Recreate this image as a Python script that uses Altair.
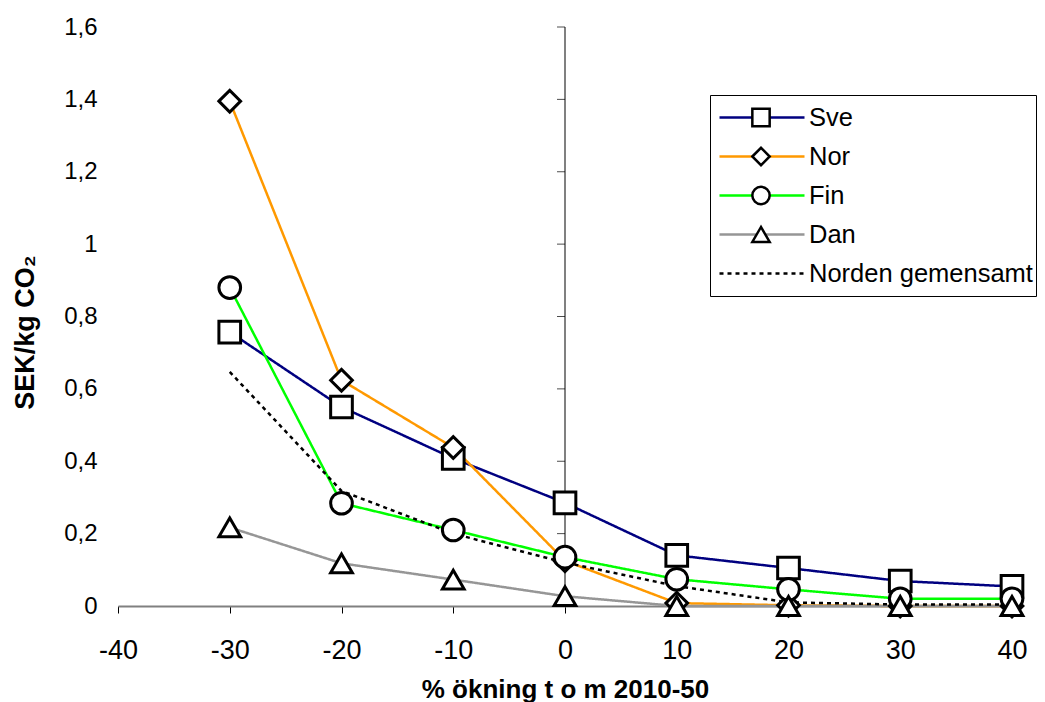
import altair as alt
import pandas as pd

# ---- data ----
x_vals = [-30, -20, -10, 0, 10, 20, 30, 40]
sve = [0.757, 0.55, 0.408, 0.285, 0.140, 0.105, 0.069, 0.054]
nor = [1.395, 0.624, 0.438, 0.125, 0.008, 0.002, 0.0, 0.0]
fin = [0.880, 0.284, 0.210, 0.135, 0.074, 0.046, 0.020, 0.020]
dan = [0.217, 0.118, 0.073, 0.027, 0.0, 0.0, 0.0, 0.0]
norden = [0.647, 0.318, 0.200, 0.120, 0.055, 0.010, 0.004, 0.004]

series_names = ["Sve", "Nor", "Fin", "Dan", "Norden gemensamt"]
line_colors = ["#000080", "#FF9900", "#00FF00", "#969696", "#000000"]
line_dashes = [[1, 0], [1, 0], [1, 0], [1, 0], [4, 4]]
marker_series = ["Sve", "Nor", "Fin", "Dan"]
marker_shapes = ["square", "diamond", "circle", "triangle-up"]

x_ticks = [-40, -30, -20, -10, 0, 10, 20, 30, 40]
y_ticks = [0, 0.2, 0.4, 0.6, 0.8, 1.0, 1.2, 1.4, 1.6]

x_title = "% ökning t o m 2010-50"
y_title = "SEK/kg CO₂"

# ---- tables ----
all_values = {"Sve": sve, "Nor": nor, "Fin": fin, "Dan": dan, "Norden gemensamt": norden}
rows = []
for i, name in enumerate(series_names):
    for x, v in zip(x_vals, all_values[name]):
        rows.append({"x": x, "v": v, "serie": name, "order": i})
df = pd.DataFrame(rows)
df_markers = df[df["serie"].isin(marker_series)]
df_ticks = pd.DataFrame({"zero": [0] * len(y_ticks), "t": y_ticks})

FONT = "Liberation Sans"

x_scale = alt.Scale(domain=[-40, 40], nice=False, zero=False)
y_scale = alt.Scale(domain=[0, 1.6], nice=False)

x_axis = alt.Axis(
    values=x_ticks, labelExpr="'' + datum.value", grid=False, labelFlush=False,
    domainColor="#808080", domainWidth=2, tickColor="#000000", tickSize=7, tickWidth=1,
    labelFont=FONT, labelFontSize=27, labelPadding=24, labelColor="#000000",
    title=x_title, titleFont=FONT, titleFontSize=26, titleFontWeight="bold",
    titleColor="#000000", titleY=91, titleBaseline="alphabetic",
)
y_axis = alt.Axis(
    values=y_ticks, labelExpr="replace('' + datum.value, '.', ',')", grid=False,
    labelFlush=False, domain=False, ticks=False, tickSize=0,
    labelFont=FONT, labelFontSize=24, labelPadding=21, labelColor="#000000",
    title=y_title, titleFont=FONT, titleFontSize=27, titleFontWeight="bold",
    titleColor="#000000", titleAngle=270, titleX=-85, titleY=305,
    titleAlign="center", titleBaseline="alphabetic",
)

line_legend = alt.Legend(
    title=None, orient="none", legendX=592, legendY=68,
    symbolType="stroke", symbolSize=7225, symbolStrokeWidth=2.5,
    clipHeight=39, rowPadding=0, padding=3, symbolOffset=5, labelOffset=3,
    labelFont=FONT, labelFontSize=25.5, labelColor="#000000", labelLimit=0,
    strokeColor="#000000", fillColor="#FFFFFF",
)

marker_legend = alt.Legend(
    title=None, orient="none", legendX=592, legendY=68,
    symbolSize=300, symbolStrokeWidth=2.5, symbolOpacity=1,
    clipHeight=39, rowPadding=0, padding=3,
    symbolOffset=38, labelExpr="''", labelFontSize=1,
)

# y-axis line drawn through x = 0 (Excel style)
zero_rule = alt.Chart(df_ticks).mark_rule(color="#808080", strokeWidth=2).encode(
    x=alt.X("zero:Q", scale=x_scale, axis=x_axis),
)
zero_ticks = alt.Chart(df_ticks).mark_tick(
    orient="horizontal", size=8, thickness=1, color="#000000", xOffset=-4
).encode(
    x=alt.X("zero:Q", scale=x_scale),
    y=alt.Y("t:Q", scale=y_scale, axis=y_axis),
)

lines = alt.Chart(df).mark_line(strokeWidth=2.5).encode(
    x=alt.X("x:Q", scale=x_scale, axis=x_axis),
    y=alt.Y("v:Q", scale=y_scale, axis=y_axis),
    color=alt.Color("serie:N", scale=alt.Scale(domain=series_names, range=line_colors),
                    legend=line_legend),
    strokeDash=alt.StrokeDash("serie:N", scale=alt.Scale(domain=series_names, range=line_dashes),
                              legend=line_legend),
    order=alt.Order("x:Q"),
)

points = alt.Chart(df_markers).mark_point(
    filled=False, fill="#FFFFFF", stroke="#000000",
    strokeWidth=3, size=470, opacity=1
).encode(
    x=alt.X("x:Q", scale=x_scale),
    y=alt.Y("v:Q", scale=y_scale),
    shape=alt.Shape("serie:N", scale=alt.Scale(domain=marker_series, range=marker_shapes),
                    legend=marker_legend),
    order=alt.Order("order:Q"),
)

chart = alt.layer(zero_rule, zero_ticks, lines, points).properties(
    width=894, height=579,
    padding={"left": 110, "top": 19, "right": 25, "bottom": 96},
    autosize=alt.AutoSizeParams(type="none"),
    background="#FFFFFF",
).configure_view(stroke=None)

chart.save("out.html", embed_options={"renderer": "svg", "actions": False})
